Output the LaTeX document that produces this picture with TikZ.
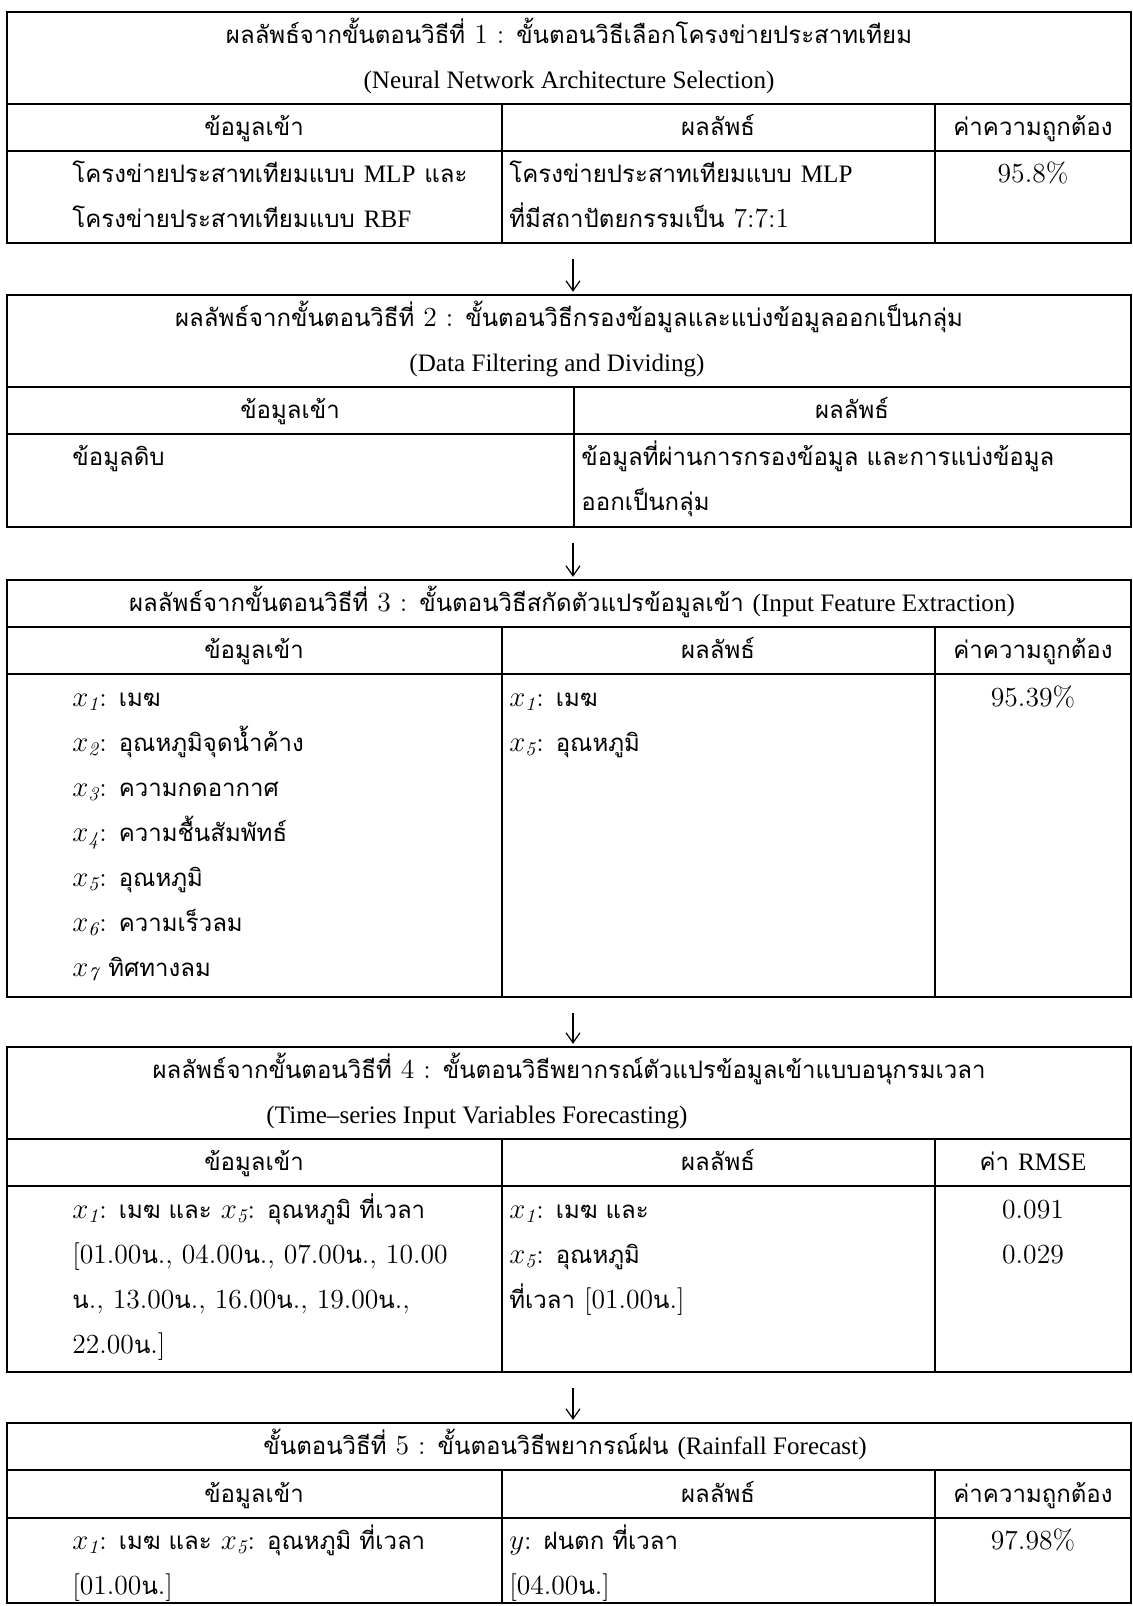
\documentclass[tikz,border=0pt]{standalone}
\usepackage{fontspec}
\usetikzlibrary{arrows.meta,positioning,fit,calc}

\newfontfamily\thaifont[Script=Thai,Scale=0.87]{Loma}
\newfontfamily\engfont[Scale=0.91]{Liberation Serif}
\newcommand{\tha}[1]{{\thaifont #1}}
\newcommand{\eng}[1]{{\engfont #1}}
\newcommand{\xv}[1]{$x_{\mathit{#1}}$}
\newcommand{\hr}[1]{#1\tha{น}.}

\begin{document}
\begin{tikzpicture}[
  x=0.5pt, y=-0.5pt,
  >={Straight Barb[length=5pt,width=7pt]},
  every node/.style={font=\fontsize{13.8pt}{22.5pt}\selectfont},
  frame/.style={draw, line width=1.2pt, inner sep=0pt},
  rule/.style={line width=1.2pt},
  head/.style={anchor=base, align=center, inner sep=0pt},
  cellt/.style={anchor=base west, align=left, inner sep=0pt},
  flow/.style={->, line width=0.6pt, shorten <=7.5pt, shorten >=1pt}
]
\useasboundingbox (0,0) rectangle (1133,1606);
\clip (0,0) rectangle (1133,1606);

% step 1
\node[frame, fit={(7,12) (1131,243)}] (tab1) {};
\draw[rule] (7,104) -- (1131,104) (7,151) -- (1131,151) (502,104) -- (502,243) (935,104) -- (935,243);
\node[head] (ti1) at (569,43) {\tha{ผลลัพธ์จากขั้นตอนวิธีที่} 1 : \tha{ขั้นตอนวิธีเลือกโครงข่ายประสาทเทียม}};
\node[head] (ti1b) at (569,88) {\eng{(Neural Network Architecture Selection)}};
\node[head] (in1) at (254,135) {\tha{ข้อมูลเข้า}};
\node[head] (out1) at (718,135) {\tha{ผลลัพธ์}};
\node[head] (acc1) at (1033,135) {\tha{ค่าความถูกต้อง}};
\node[cellt] (inv1) at (72,227) {\tha{โครงข่ายประสาทเทียมแบบ} \eng{MLP} \tha{และ}\\\tha{โครงข่ายประสาทเทียมแบบ} \eng{RBF}};
\node[cellt] (outv1) at (509,227) {\tha{โครงข่ายประสาทเทียมแบบ} \eng{MLP}\\\tha{ที่มีสถาปัตยกรรมเป็น} 7:7:1};
\node[head] (accv1) at (1033,182) {95.8\%};

% step 2
\node[frame, fit={(7,295) (1131,527)}] (tab2) {};
\draw[rule] (7,387) -- (1131,387) (7,434) -- (1131,434) (574,387) -- (574,527);
\node[head] (ti2) at (569,326) {\tha{ผลลัพธ์จากขั้นตอนวิธีที่} 2 : \tha{ขั้นตอนวิธีกรองข้อมูลและแบ่งข้อมูลออกเป็นกลุ่ม}};
\node[head] (ti2b) at (557,371) {\eng{(Data Filtering and Dividing)}};
\node[head] (in2) at (290,418) {\tha{ข้อมูลเข้า}};
\node[head] (out2) at (852,418) {\tha{ผลลัพธ์}};
\node[cellt] (inv2) at (72,465) {\tha{ข้อมูลดิบ}};
\node[cellt] (outv2) at (581,510) {\tha{ข้อมูลที่ผ่านการกรองข้อมูล และการแบ่งข้อมูล}\\\tha{ออกเป็นกลุ่ม}};

% step 3
\node[frame, fit={(7,580) (1131,997)}] (tab3) {};
\draw[rule] (7,627) -- (1131,627) (7,674) -- (1131,674) (502,627) -- (502,997) (935,627) -- (935,997);
\node[head] (ti3) at (572,611) {\tha{ผลลัพธ์จากขั้นตอนวิธีที่} 3 : \tha{ขั้นตอนวิธีสกัดตัวแปรข้อมูลเข้า} \eng{(Input Feature Extraction)}};
\node[head] (in3) at (254,658) {\tha{ข้อมูลเข้า}};
\node[head] (out3) at (718,658) {\tha{ผลลัพธ์}};
\node[head] (acc3) at (1033,658) {\tha{ค่าความถูกต้อง}};
\node[cellt] (inv3) at (72,976) {\xv{1}: \tha{เมฆ}\\\xv{2}: \tha{อุณหภูมิจุดน้ำค้าง}\\\xv{3}: \tha{ความกดอากาศ}\\\xv{4}: \tha{ความชื้นสัมพัทธ์}\\\xv{5}: \tha{อุณหภูมิ}\\\xv{6}: \tha{ความเร็วลม}\\\xv{7} \tha{ทิศทางลม}};
\node[cellt] (outv3) at (509,751) {\xv{1}: \tha{เมฆ}\\\xv{5}: \tha{อุณหภูมิ}};
\node[head] (accv3) at (1033,706) {95.39\%};

% step 4
\node[frame, fit={(7,1047) (1131,1372)}] (tab4) {};
\draw[rule] (7,1139) -- (1131,1139) (7,1186) -- (1131,1186) (502,1139) -- (502,1372) (935,1139) -- (935,1372);
\node[head] (ti4) at (569,1078) {\tha{ผลลัพธ์จากขั้นตอนวิธีที่} 4 : \tha{ขั้นตอนวิธีพยากรณ์ตัวแปรข้อมูลเข้าแบบอนุกรมเวลา}};
\node[head] (ti4b) at (477,1123) {\eng{(Time–series Input Variables Forecasting)}};
\node[head] (in4) at (254,1170) {\tha{ข้อมูลเข้า}};
\node[head] (out4) at (718,1170) {\tha{ผลลัพธ์}};
\node[head] (acc4) at (1033,1170) {\tha{ค่า} \eng{RMSE}};
\node[cellt] (inv4) at (72,1353) {\xv{1}: \tha{เมฆ และ} \xv{5}: \tha{อุณหภูมิ ที่เวลา}\\{[}\hr{01.00}, \hr{04.00}, \hr{07.00}, 10.00\\\tha{น}., \hr{13.00}, \hr{16.00}, \hr{19.00},\\\hr{22.00}]};
\node[cellt] (outv4) at (509,1308) {\xv{1}: \tha{เมฆ และ}\\\xv{5}: \tha{อุณหภูมิ}\\\tha{ที่เวลา} {[}\hr{01.00}]};
\node[head] (accv4) at (1033,1263) {0.091\\0.029};

% step 5
\node[frame, fit={(7,1423) (1131,1603)}] (tab5) {};
\draw[rule] (7,1470) -- (1131,1470) (7,1518) -- (1131,1518) (502,1470) -- (502,1603) (935,1470) -- (935,1603);
\node[head] (ti5) at (565,1454) {\tha{ขั้นตอนวิธีที่} 5 : \tha{ขั้นตอนวิธีพยากรณ์ฝน} \eng{(Rainfall Forecast)}};
\node[head] (in5) at (254,1502) {\tha{ข้อมูลเข้า}};
\node[head] (out5) at (718,1502) {\tha{ผลลัพธ์}};
\node[head] (acc5) at (1033,1502) {\tha{ค่าความถูกต้อง}};
\node[cellt] (inv5) at (72,1594) {\xv{1}: \tha{เมฆ และ} \xv{5}: \tha{อุณหภูมิ ที่เวลา}\\{[}\hr{01.00}]};
\node[cellt] (outv5) at (509,1594) {$y$: \tha{ฝนตก ที่เวลา}\\{[}\hr{04.00}]};
\node[head] (accv5) at (1033,1549) {97.98\%};

% arrows between the steps
\foreach \a/\b in {tab1/tab2, tab2/tab3, tab3/tab4, tab4/tab5}
  \draw[flow] ([xshift=2pt]\a.south) -- ([xshift=2pt]\b.north);
\end{tikzpicture}
\end{document}
